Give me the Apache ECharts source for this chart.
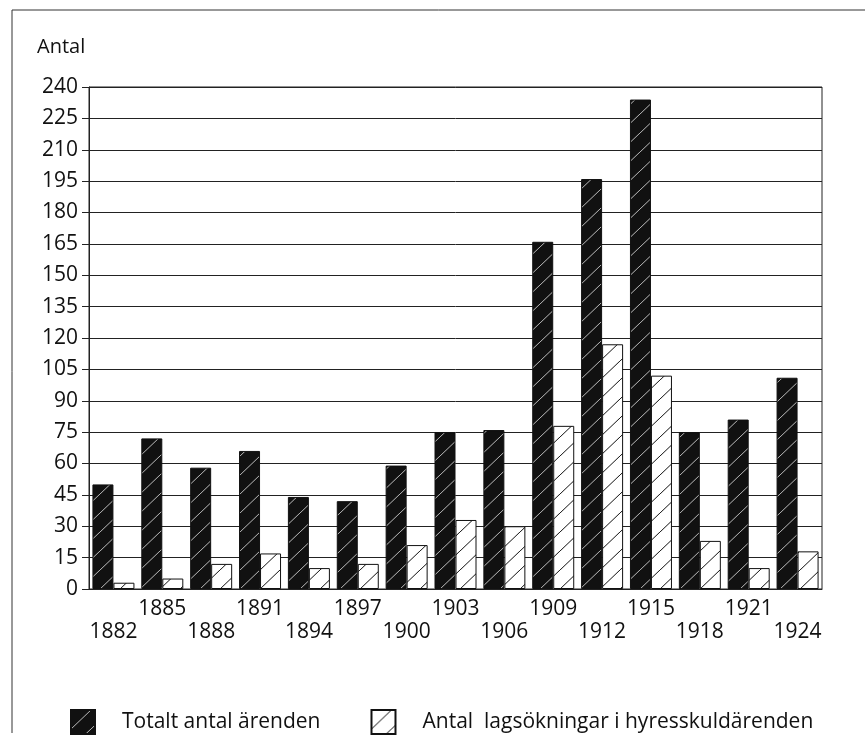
<!DOCTYPE html>
<html>
<head>
<meta charset="utf-8">
<script src="https://cdn.jsdelivr.net/npm/echarts@6/dist/echarts.min.js"></script>
<style>
  html, body { margin: 0; padding: 0; background: #fff; }
  #chart { width: 865px; height: 743px; }
</style>
</head>
<body>
<div id="chart"></div>
<script>
    // år (var tredje år) och antal ärenden
    const years = ['1882', '1885', '1888', '1891', '1894', '1897', '1900', '1903',
        '1906', '1909', '1912', '1915', '1918', '1921', '1924'];
    const totalt = [50, 72, 58, 66, 44, 42, 59, 75, 76, 166, 196, 234, 75, 81, 101];
    const lagsokningar = [3, 5, 12, 17, 10, 12, 21, 33, 30, 78, 117, 102, 23, 10, 18];
    const yTicks = { min: 0, max: 240, step: 15 };

    const font = '"Open Sans", "Noto Sans", sans-serif';

    // diagonal hatch fill
    function hatch(bg, line) {
        let c = document.createElement('canvas');
        c.width = 20;
        c.height = 19;
        let ctx = c.getContext('2d');
        ctx.fillStyle = bg;
        ctx.fillRect(0, 0, 20, 19);
        ctx.strokeStyle = line;
        ctx.lineWidth = 1;
        ctx.beginPath();
        ctx.moveTo(-1, 20);
        ctx.lineTo(21, -1);
        ctx.stroke();
        return {image: c, repeat: 'repeat'};
    }

    const myChart = echarts.init(document.getElementById('chart'));

    let options = {
        animation: false,
        textStyle: {fontFamily: font},
        graphic: [
            {
                type: 'polyline',
                shape: {points: [[12, 733], [12, 10], [865, 10]]},
                style: {stroke: '#333', lineWidth: 1, fill: null}
            },
            {
                type: 'text',
                left: 37,
                top: 37,
                style: {text: 'Antal', fontSize: 20, fill: '#111', fontFamily: font}
            }
        ],
        grid: {
            left: 89,
            right: 43,
            top: 87,
            bottom: 154,
            show: true,
            borderColor: '#222',
            borderWidth: 1
        },
        legend: {
            left: 65,
            top: 704,
            icon: 'rect',
            itemWidth: 24,
            itemHeight: 24,
            itemGap: 50,
            textStyle: {fontSize: 21, color: '#111', padding: [0, 0, 0, 22]},
            data: ['Totalt antal ärenden', 'Antal  lagsökningar i hyresskuldärenden']
        },
        xAxis: {
            type: 'category',
            data: years,
            axisTick: {show: false},
            axisLine: {lineStyle: {color: '#222'}},
            axisLabel: {
                interval: 0,
                margin: 9,
                fontSize: 21,
                lineHeight: 23,
                color: '#111',
                formatter: function (value, index) {
                    return index % 2 === 1 ? value : '\n' + value;
                }
            }
        },
        yAxis: {
            type: 'value',
            min: yTicks.min,
            max: yTicks.max,
            interval: yTicks.step,
            axisLine: {show: true, lineStyle: {color: '#222'}},
            axisTick: {show: true, length: 7, lineStyle: {color: '#222'}},
            splitLine: {lineStyle: {color: '#222', width: 1}},
            axisLabel: {fontSize: 21, color: '#111', margin: 11}
        },
        series: [
            {
                name: 'Totalt antal ärenden',
                type: 'bar',
                barWidth: 21,
                barGap: '0%',
                itemStyle: {color: hatch('#111', '#bbb'), borderColor: '#111', borderWidth: 1},
                data: totalt
            },
            {
                name: 'Antal  lagsökningar i hyresskuldärenden',
                type: 'bar',
                barWidth: 21,
                barGap: '0%',
                itemStyle: {color: hatch('#fff', '#111'), borderColor: '#111', borderWidth: 1},
                data: lagsokningar
            }
        ]
    };
    myChart.setOption(options, true);
</script>
</body>
</html>
